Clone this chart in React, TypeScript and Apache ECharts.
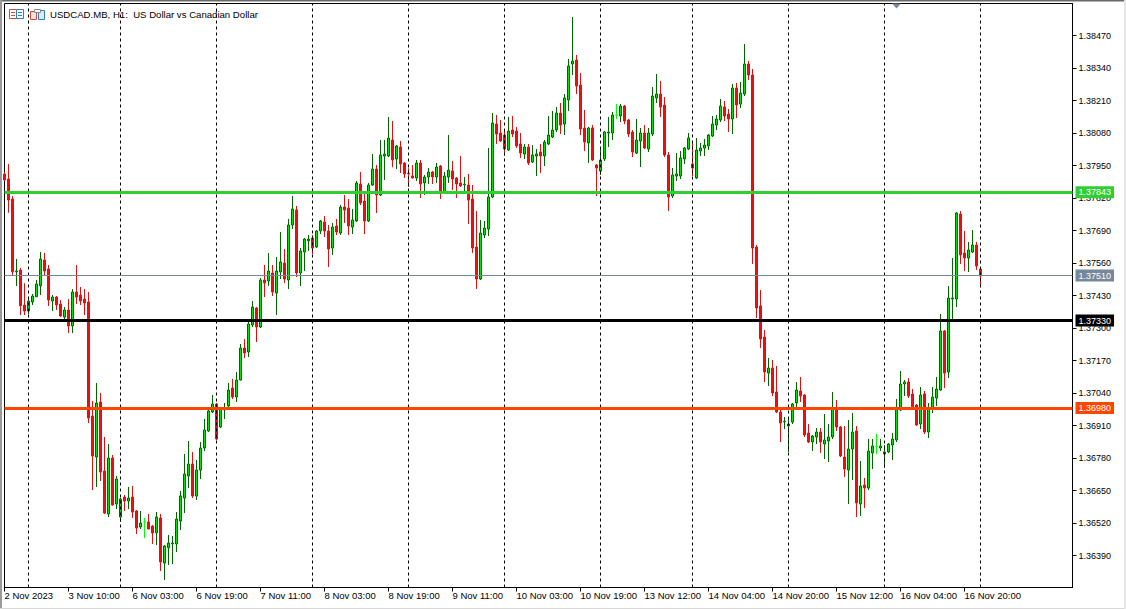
import React, { useEffect, useRef } from "react";
import * as echarts from "echarts";

// Every bar is [open, close, low, high], in points (1 point = 0.00001).
const bars2to3Nov = [
  [137916,137892,137888,137924],[137896,137812,137761,137956],[137816,137525,137508,137828],[137525,137528,137468,137576],
  [137532,137389,137352,137540],[137392,137368,137352,137479],[137368,137408,137356,137423],[137404,137428,137392,137436],
  [137425,137476,137424,137492],[137469,137576,137432,137604],[137572,137528,137508,137600],[137536,137412,137388,137552],
  [137408,137424,137368,137432],[137424,137392,137372,137428],[137396,137348,137344,137412],[137344,137372,137335,137384],
  [137372,137308,137280,137416],[137308,137444,137280,137456],[137444,137424,137396,137552],[137432,137408,137392,137464],
  [137416,137400,137352,137456],[137404,136940,136920,137444],[136948,136788,136652,137008],[136784,137000,136664,137080],
  [137004,136724,136688,137040],[136728,136560,136556,136864],[136556,136780,136544,136836],[136780,136592,136590,136792],
  [136596,136696,136576,136708],
];
const bars6Nov = [
  [136544,136616,136524,136620],[136624,136608,136568,136632],[136608,136620,136576,136664],[136624,136564,136540,136668],
  [136568,136500,136476,136572],[136504,136520,136496,136568],[136524,136524,136460,136540],[136524,136496,136494,136556],
  [136508,136480,136436,136512],[136481,136544,136432,136564],[136540,136364,136328,136556],[136360,136428,136292,136432],
  [136421,136440,136352,136472],[136437,136440,136356,136468],[136436,136536,136404,136564],[136528,136628,136492,136648],
  [136620,136716,136560,136796],[136708,136756,136660,136848],[136756,136628,136620,136804],[136628,136732,136612,136772],
  [136732,136820,136696,136844],[136820,136892,136808,136936],[136888,136968,136884,136972],[136964,136996,136960,137032],
];
const bars7Nov = [
  [136996,136856,136852,137000],[136904,136980,136900,136984],[136972,136980,136936,137000],[136988,137052,136972,137080],
  [137060,137024,137016,137096],[137024,137092,137004,137124],[137092,137220,137090,137236],[137220,137200,137180,137256],
  [137204,137316,137184,137328],[137312,137384,137304,137408],[137380,137304,137244,137384],[137304,137492,137300,137500],
  [137492,137480,137424,137552],[137488,137528,137468,137600],[137520,137444,137428,137552],[137440,137528,137352,137584],
  [137524,137564,137496,137684],[137560,137496,137480,137616],[137492,137712,137456,137736],[137712,137776,137696,137828],
  [137772,137520,137504,137788],[137520,137608,137468,137620],[137604,137656,137528,137660],[137649,137656,137608,137672],
];
const bars8Nov = [
  [137660,137620,137596,137672],[137624,137688,137620,137692],[137688,137728,137676,137732],[137724,137688,137664,137748],
  [137688,137616,137544,137712],[137620,137704,137592,137720],[137708,137684,137672,137736],[137680,137784,137672,137792],
  [137784,137772,137720,137832],[137780,137708,137672,137816],[137704,137732,137676,137776],[137728,137880,137724,137888],
  [137876,137800,137792,137924],[137808,137728,137676,137844],[137728,137872,137724,137880],[137872,137936,137868,137996],
  [137936,137832,137760,137952],[137832,137992,137828,138052],[137988,137996,137892,138052],[137988,138060,137984,138144],
  [138052,137972,137943,138128],[137976,138028,137936,138032],[138024,137956,137920,138048],[137960,137916,137900,137964],
];
const bars9Nov = [
  [137920,137917,137864,137939],[137908,137900,137898,137952],[137900,137960,137888,137972],[137960,137876,137820,137972],
  [137880,137904,137832,137912],[137904,137924,137876,137940],[137924,137904,137876,137928],[137904,137944,137880,137960],
  [137948,137845,137816,137952],[137845,137908,137840,137924],[137904,137932,137880,138072],[137928,137896,137852,137968],
  [137900,137876,137820,137904],[137880,137868,137864,137988],[137873,137875,137843,137904],[137872,137812,137716,137916],
  [137816,137620,137600,137872],[137624,137496,137456,137768],[137496,137680,137492,137732],[137672,137700,137660,137728],
  [137696,137824,137668,138020],[137824,138120,137820,138160],[138116,138076,138036,138152],[138080,138048,138044,138132],
];
const bars10Nov = [
  [138072,138016,137988,138096],[138012,138088,138008,138144],[138092,138076,138064,138148],[138088,138028,138020,138104],
  [138036,138000,137980,138080],[137996,138024,137976,138036],[138024,137960,137952,138036],[137964,137992,137960,138032],
  [137988,137996,137908,138016],[138004,137988,137920,138036],[137988,138044,137948,138052],[138036,138072,138032,138148],
  [138064,138092,138060,138168],[138092,138160,138084,138184],[138160,138112,138076,138200],[138116,138220,138072,138236],
  [138212,138348,138168,138376],[138356,138368,138312,138544],[138372,138268,138236,138392],[138272,138096,138072,138320],
  [138100,138044,138008,138172],[138040,138100,137960,138104],[138100,137972,137968,138112],[137952,137940,137828,137956],
];
const bars13Nov = [
  [137928,137972,137912,138016],[137976,138084,137968,138088],[138080,138084,138024,138144],[138080,138152,138052,138164],
  [138152,138152,138136,138196],[138148,138188,138124,138196],[138188,138128,138116,138192],[138132,138076,138064,138136],
  [138084,138004,137984,138092],[138000,138052,137996,138136],[138048,138080,137944,138100],[138080,138020,138016,138112],
  [138016,138080,138004,138100],[138076,138228,138068,138264],[138220,138236,138200,138316],[138236,138184,138144,138288],
  [138192,137992,137984,138224],[137992,137824,137768,138004],[137828,137912,137820,137940],[137908,137916,137888,138000],
  [137908,137980,137896,138008],[137976,138020,137956,138024],[138016,138060,138012,138080],
];
const bars14Nov = [
  [137956,137940,137908,138048],[137900,138012,137896,138060],[138008,138020,137988,138040],[138020,138032,137988,138056],
  [138028,138072,138012,138076],[138068,138116,138064,138148],[138112,138136,138092,138152],[138132,138188,138124,138216],
  [138184,138148,138128,138208],[138156,138136,138084,138176],[138136,138260,138076,138276],[138260,138192,138140,138280],
  [138196,138240,138180,138284],[138236,138356,138228,138436],[138356,138312,138292,138368],[138312,137620,137556,138336],
  [137624,137380,137340,137632],[137388,137256,137220,137452],[137264,137124,137084,137292],[137120,137140,137068,137180],
  [137140,137040,137028,137172],[137044,136964,136960,137148],[136964,136920,136844,136976],[136925,136927,136896,136944],
];
const bars15Nov = [
  [136908,136916,136804,136944],[136924,136996,136916,137000],[137000,137052,136972,137084],[137048,137028,137004,137104],
  [137032,136872,136864,137036],[136880,136844,136840,136916],[136844,136868,136808,136872],[136864,136884,136836,136900],
  [136884,136844,136800,136900],[136836,136852,136776,136956],[136848,136864,136764,136916],[136864,136976,136856,137044],
  [136976,136904,136888,137012],[136904,136788,136784,136908],[136784,136736,136704,136908],[136732,136816,136596,136932],
  [136816,136884,136692,136960],[136888,136600,136544,136908],[136596,136668,136548,136768],[136672,136660,136580,136700],
  [136660,136808,136652,136856],[136800,136828,136736,136856],[136827,136827,136796,136876],[136820,136828,136808,136856],
];
const bars16Nov = [
  [136796,136804,136740,136832],[136804,136836,136800,136840],[136832,136856,136772,136880],[136852,136976,136844,137016],
  [136972,137076,136968,137128],[137076,137084,137028,137092],[137084,137028,137020,137100],[137036,136985,136980,137056],
  [136992,136912,136908,136996],[136916,137032,136896,137064],[137036,136884,136876,137048],[136884,136976,136860,137000],
  [136980,137024,136960,137064],[137020,137056,136988,137104],[137052,137288,137048,137356],[137288,137120,137060,137292],
  [137124,137420,137100,137468],[137416,137420,137332,137580],[137416,137760,137384,137764],[137756,137592,137556,137768],
  [137600,137580,137528,137688],[137580,137612,137524,137644],[137604,137632,137600,137692],[137632,137548,137532,137644],
  [137536,137508,137472,137540],
];
const allBars = [
  ...bars2to3Nov, ...bars6Nov, ...bars7Nov, ...bars8Nov, ...bars9Nov,
  ...bars10Nov, ...bars13Nov, ...bars14Nov, ...bars15Nov, ...bars16Nov,
];

const priceTicks = [
  1.3847, 1.3834, 1.3821, 1.3808, 1.3795, 1.3782, 1.3769, 1.3756, 1.3743,
  1.373, 1.3717, 1.3704, 1.3691, 1.3678, 1.3665, 1.3652, 1.3639,
];
const timeLabels = [
  "2 Nov 2023", "3 Nov 10:00", "6 Nov 03:00", "6 Nov 19:00", "7 Nov 11:00", "8 Nov 03:00",
  "8 Nov 19:00", "9 Nov 11:00", "10 Nov 03:00", "10 Nov 19:00", "13 Nov 12:00", "14 Nov 04:00",
  "14 Nov 20:00", "15 Nov 12:00", "16 Nov 04:00", "16 Nov 20:00",
];
const daySeparators = [6, 29, 53, 77, 101, 125, 149, 172, 196, 220, 244];
const flatBars = [35, 153, 218];
const levelLines = [
  { price: 1.37843, color: "#32CD32", width: 3 },
  { price: 1.3751, color: "#778899", width: 1 },
  { price: 1.3733, color: "#000000", width: 3 },
  { price: 1.3698, color: "#FF4500", width: 3 },
];
const LABEL_STEP = 16;
const EMPTY_SLOTS = 23;
const TITLE = "USDCAD.MB, H1:  US Dollar vs Canadian Dollar";
const FONT = "'Liberation Sans', Arial, sans-serif";

export default function App() {
  const ref = useRef<HTMLDivElement>(null);
  useEffect(() => {
    const chart = echarts.init(ref.current!, null, { renderer: "svg" });
    const total = allBars.length + EMPTY_SLOTS;
    const showTick = (i: number) => i % LABEL_STEP === 0 && i / LABEL_STEP < timeLabels.length;
    chart.setOption({
      animation: false,
      backgroundColor: "#ffffff",
      grid: {
        show: true,
        left: 4.5,
        top: 3.5,
        width: 1068,
        height: 584,
        borderColor: "#000000",
        borderWidth: 1,
        backgroundColor: "#ffffff",
      },
      xAxis: {
        type: "category",
        boundaryGap: false,
        data: Array.from({ length: total }, (_, i) => String(i)),
        axisLine: { show: true, lineStyle: { color: "#000000", width: 1 } },
        axisTick: { show: true, length: 4, interval: (i: number) => showTick(i), lineStyle: { color: "#000000" } },
        splitLine: { show: false },
        axisLabel: {
          show: true,
          interval: (i: number) => showTick(i),
          formatter: (_: string, i: number) => timeLabels[i / LABEL_STEP] ?? "",
          align: "left",
          margin: 3,
          color: "#000000",
          fontFamily: FONT,
          fontSize: 9.5,
          hideOverlap: false,
        },
      },
      yAxis: {
        type: "value",
        position: "right",
        min: 1.36262,
        max: 1.38598,
        scale: true,
        axisLine: { show: true, onZero: false, lineStyle: { color: "#000000", width: 1 } },
        axisTick: { show: true, length: 4, customValues: priceTicks, lineStyle: { color: "#000000" } },
        splitLine: { show: false },
        axisLabel: {
          show: true,
          customValues: priceTicks,
          formatter: (v: number) => v.toFixed(5),
          margin: 6,
          color: "#000000",
          fontFamily: FONT,
          fontSize: 9,
        },
      },
      series: [
        {
          type: "line",
          data: [],
          z: 1,
          silent: true,
          markLine: {
            silent: true,
            symbol: "none",
            label: { show: false },
            lineStyle: { color: "#000000", width: 1, type: [3, 3] },
            data: daySeparators.map((i) => ({ xAxis: i })),
          },
        },
        {
          type: "candlestick",
          z: 2,
          barWidth: 2,
          silent: true,
          itemStyle: {
            color: "#00e600",
            color0: "#e81010",
            borderColor: "#006400",
            borderColor0: "#e01010",
            borderWidth: 1,
          },
          data: allBars.map((b, i) => {
            const value = b.map((p) => p / 100000);
            return flatBars.includes(i)
              ? { value, itemStyle: { color: "#00ff00", color0: "#00ff00", borderColor: "#00ff00", borderColor0: "#00ff00" } }
              : { value };
          }),
          markLine: {
            silent: true,
            symbol: "none",
            precision: 5,
            data: levelLines.map((l) => ({
              yAxis: l.price,
              lineStyle: { color: l.color, width: l.width, type: "solid" },
              label: {
                show: true,
                position: "end",
                distance: 3,
                formatter: () => l.price.toFixed(5),
                color: "#ffffff",
                backgroundColor: l.color,
                fontFamily: FONT,
                fontSize: 9,
                padding: [2, 3, 1, 3],
              },
            })),
          },
        },
      ],
      graphic: [
        { type: "rect", shape: { x: 0, y: 0, width: 1126, height: 1.5 }, style: { fill: "#696969" } },
        { type: "rect", shape: { x: 0, y: 0, width: 2, height: 609 }, style: { fill: "#9a9a9a" } },
        { type: "rect", shape: { x: 0, y: 608, width: 1126, height: 1 }, style: { fill: "#d8d8d8" } },
        { type: "rect", shape: { x: 1124, y: 0, width: 2, height: 609 }, style: { fill: "#e6e6e6" } },
        { type: "polygon", shape: { points: [[892, 3.5], [901, 3.5], [896.5, 8.5]] }, style: { fill: "#7a8a99" }, z: 20 },
        { type: "rect", shape: { x: 9.5, y: 9.5, width: 7, height: 9 }, style: { fill: "#fff", stroke: "#d94a3a", lineWidth: 1 }, z: 20 },
        { type: "rect", shape: { x: 16.5, y: 9.5, width: 7, height: 9 }, style: { fill: "#fff", stroke: "#2f7fc1", lineWidth: 1 }, z: 20 },
        { type: "line", shape: { x1: 11, y1: 12.5, x2: 15, y2: 12.5 }, style: { stroke: "#d94a3a" }, z: 21 },
        { type: "line", shape: { x1: 11, y1: 15.5, x2: 15, y2: 15.5 }, style: { stroke: "#d94a3a" }, z: 21 },
        { type: "line", shape: { x1: 18, y1: 12.5, x2: 22, y2: 12.5 }, style: { stroke: "#2f7fc1" }, z: 21 },
        { type: "line", shape: { x1: 18, y1: 15.5, x2: 22, y2: 15.5 }, style: { stroke: "#2f7fc1" }, z: 21 },
        { type: "rect", shape: { x: 30.5, y: 11.5, width: 6, height: 8 }, style: { fill: "#fbe3de", stroke: "#d94a3a", lineWidth: 1 }, z: 20 },
        { type: "rect", shape: { x: 38.5, y: 10.5, width: 6, height: 9 }, style: { fill: "#dcebf7", stroke: "#2f7fc1", lineWidth: 1 }, z: 20 },
        { type: "rect", shape: { x: 34.5, y: 9.5, width: 6, height: 3 }, style: { fill: "#fff", stroke: "#8a8a8a", lineWidth: 1 }, z: 21 },
        {
          type: "text",
          x: 50,
          y: 14.5,
          z: 20,
          style: { text: TITLE, fill: "#000000", font: `9.6px ${FONT}`, textVerticalAlign: "middle", textBaseline: "middle" },
        },
      ],
    });
    return () => chart.dispose();
  }, []);
  return (
    <div
      ref={ref}
      style={{ position: "fixed", left: 0, top: 0, width: 1126, height: 609, background: "#fff" }}
    />
  );
}
